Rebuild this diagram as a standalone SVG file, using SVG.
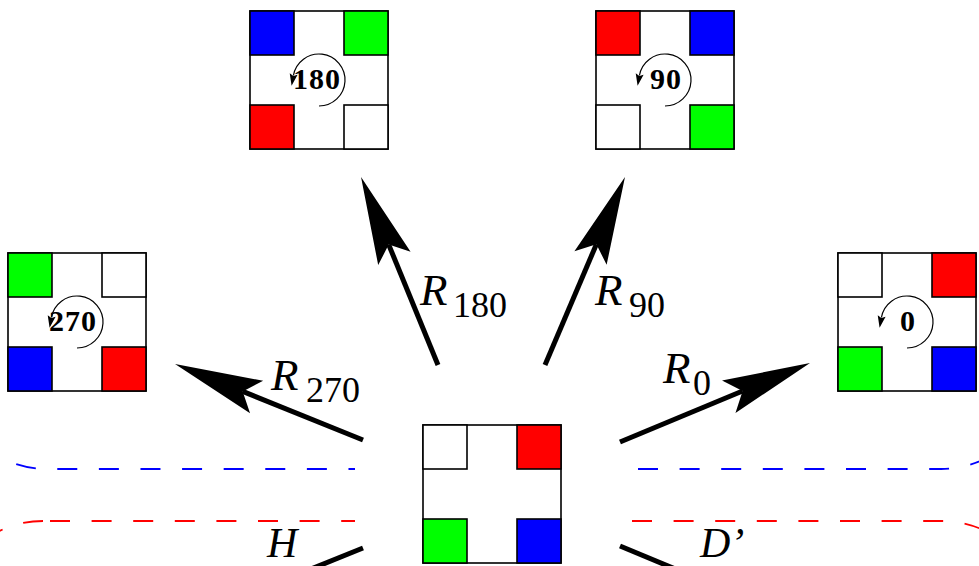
<svg xmlns="http://www.w3.org/2000/svg" width="979" height="566" viewBox="0 0 979 566">
<style>
.box{fill:#fff;stroke:#000;stroke-width:1.6}
.sq{stroke:#000;stroke-width:1.6}
.r{fill:#f00}.g{fill:#0f0}.b{fill:#00f}.w{fill:#fff}
.rot{fill:none;stroke:#000;stroke-width:1.2;marker-end:url(#small)}
.num{font-family:"Liberation Serif","Times New Roman",serif;font-weight:bold;font-size:30px;text-anchor:middle;letter-spacing:1px}
.conn{stroke:#000;stroke-width:5;fill:none;marker-end:url(#big)}
.lab{font-family:"Liberation Serif","Times New Roman",serif;font-style:italic;font-size:45px}
.lab2{font-family:"Liberation Serif","Times New Roman",serif;font-style:italic;font-size:42px}
.sub{font-family:"Liberation Serif","Times New Roman",serif;font-style:normal;font-size:36px}
.dash{fill:none;stroke-width:1.8;stroke-dasharray:20 21.6}
.blue{stroke:#00f}.red{stroke:#f00}
</style>
<defs>
<marker id="big" markerUnits="userSpaceOnUse" orient="auto" refX="15" refY="0" markerWidth="100" markerHeight="40" overflow="visible">
<path d="M0 -17.5 L88 0 L0 17.5 L15 0 Z" fill="#000"/>
</marker>
<marker id="small" markerUnits="userSpaceOnUse" orient="auto" refX="1.5" refY="0" markerWidth="14" markerHeight="10" overflow="visible">
<path d="M0 -4 L12 0 L0 4 L2 0 Z" fill="#000"/>
</marker>
</defs>
<rect width="979" height="566" fill="#fff"/>

<g id="regions">
<path class="dash blue" d="M-53 369 A100 100 0 0 0 47 469 L355 469" stroke-dashoffset="40.9"/>
<path class="dash blue" d="M637 469 L941 469 A100 100 0 0 0 1041 369" stroke-dashoffset="40.6"/>
<path class="dash red" d="M43 521 A100 100 0 0 0 -57 621"/>
<path class="dash red" d="M50 521 L355 521"/>
<path class="dash red" d="M631 521 L942 521 A100 100 0 0 1 1042 621" stroke-dashoffset="40.6"/>
</g>

<g id="connectors">
<g id="e-r270"><path class="conn" d="M363 440 L242.7 391.4"/>
<text class="lab" x="271" y="390">R<tspan class="sub" x="306" y="402">270</tspan></text></g>
<g id="e-r180"><path class="conn" d="M438 365 L388.7 244.6"/>
<text class="lab" x="420" y="305">R<tspan class="sub" x="453" y="317">180</tspan></text></g>
<g id="e-r90"><path class="conn" d="M545 365 L596.4 244.2"/>
<text class="lab" x="595" y="305">R<tspan class="sub" x="629" y="317">90</tspan></text></g>
<g id="e-r0"><path class="conn" d="M620 442 L742.6 391"/>
<text class="lab" x="663" y="383">R<tspan class="sub" x="693" y="395">0</tspan></text></g>
<g id="e-h"><path class="conn" d="M363 548 L242.7 596.6"/>
<text class="lab2" x="267" y="556.5">H</text></g>
<g id="e-d"><path class="conn" d="M620 546 L742.6 597"/>
<text class="lab2" x="700" y="556.5">D’</text></g>
</g>

<g id="n180" transform="translate(250,11)">
<rect class="box" width="138" height="138"/>
<rect class="sq b" x="0" y="0" width="44" height="44"/>
<rect class="sq g" x="94" y="0" width="44" height="44"/>
<rect class="sq r" x="0" y="94" width="44" height="44"/>
<rect class="sq w" x="94" y="94" width="44" height="44"/>
<path class="rot" d="M69 95 A26 26 0 1 0 43.4 64.5"/>
<text class="num" x="67" y="78">180</text>
</g>

<g id="n90" transform="translate(596,11)">
<rect class="box" width="138" height="138"/>
<rect class="sq r" x="0" y="0" width="44" height="44"/>
<rect class="sq b" x="94" y="0" width="44" height="44"/>
<rect class="sq w" x="0" y="94" width="44" height="44"/>
<rect class="sq g" x="94" y="94" width="44" height="44"/>
<path class="rot" d="M69 95 A26 26 0 1 0 43.4 64.5"/>
<text class="num" x="70" y="78">90</text>
</g>

<g id="n270" transform="translate(8,253)">
<rect class="box" width="138" height="138"/>
<rect class="sq g" x="0" y="0" width="44" height="44"/>
<rect class="sq w" x="94" y="0" width="44" height="44"/>
<rect class="sq b" x="0" y="94" width="44" height="44"/>
<rect class="sq r" x="94" y="94" width="44" height="44"/>
<path class="rot" d="M69 95 A26 26 0 1 0 43.4 64.5"/>
<text class="num" x="65" y="78">270</text>
</g>

<g id="n0" transform="translate(838,253)">
<rect class="box" width="138" height="138"/>
<rect class="sq w" x="0" y="0" width="44" height="44"/>
<rect class="sq r" x="94" y="0" width="44" height="44"/>
<rect class="sq g" x="0" y="94" width="44" height="44"/>
<rect class="sq b" x="94" y="94" width="44" height="44"/>
<path class="rot" d="M69 95 A26 26 0 1 0 43.4 64.5"/>
<text class="num" x="70" y="78">0</text>
</g>

<g id="center" transform="translate(423,425)">
<rect class="box" width="138" height="138"/>
<rect class="sq w" x="0" y="0" width="44" height="44"/>
<rect class="sq r" x="94" y="0" width="44" height="44"/>
<rect class="sq g" x="0" y="94" width="44" height="44"/>
<rect class="sq b" x="94" y="94" width="44" height="44"/>
</g>
</svg>
